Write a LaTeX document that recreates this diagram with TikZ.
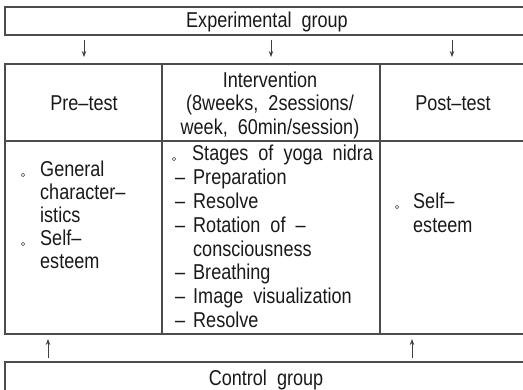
\documentclass[tikz,border=0pt]{standalone}
\usepackage{fontspec}
\setmainfont{Liberation Sans}[FakeStretch=0.84]
\usetikzlibrary{arrows.meta}
\tikzset{
  frame/.style={draw=black!70, line width=1.3pt},
  lbl/.style={inner sep=0pt, font=\fontsize{21.5}{24}\selectfont, text height=16pt, text depth=4pt, text=black!90},
  lw/.style={lbl, anchor=west},
  arr/.style={draw=black!75, line width=0.8pt, -{Stealth[length=6pt,width=4.5pt]}},
  bul/.style={circle, draw=black!70, line width=0.5pt, inner sep=0pt, minimum size=3.6pt},
}
\begin{document}
\begin{tikzpicture}[x=1pt,y=-1pt]
\useasboundingbox (0,0) rectangle (523,389);
\begin{scope}
\clip (0,0) rectangle (523,389);
\draw[frame] (5,7) rectangle (545,35);
\draw[frame] (5,64) rectangle (545,334);
\draw[frame] (5,141) -- (545,141);
\draw[frame] (162,64) -- (162,334);
\draw[frame] (380,64) -- (380,334);
\draw[frame] (5,400) -- (5,362) -- (545,362);
\end{scope}
% group labels
\node[lbl] (exp) at (267,21) {Experimental\ \ group};
\node[lbl] (ctrl) at (266,379) {Control\ \ group};
% headers
\node[lbl] (pre) at (84,104) {Pre–test};
\node[lbl] (int1) at (270,81) {Intervention};
\node[lbl] (int2) at (270,104) {(8weeks,\ \ 2sessions/};
\node[lbl] (int3) at (270,128) {week,\ \ 60min/session)};
\node[lbl] (post) at (453,104) {Post–test};
% arrows
\coordinate (d1s) at (84,40);  \coordinate (d1e) at (84,57);
\coordinate (d2s) at (271,40); \coordinate (d2e) at (271,57);
\coordinate (d3s) at (452,40); \coordinate (d3e) at (452,57);
\draw[arr] (d1s) -- (d1e);
\draw[arr] (d2s) -- (d2e);
\draw[arr] (d3s) -- (d3e);
\coordinate (u1s) at (48,358);  \coordinate (u1e) at (48,339);
\coordinate (u2s) at (412,358); \coordinate (u2e) at (412,339);
\draw[arr] (u1s) -- (u1e);
\draw[arr] (u2s) -- (u2e);
% left column
\node[bul] (lb1) at (23,175) {};
\node[lw] (l1) at (40,170) {General};
\node[lw] (l2) at (40,193) {character–};
\node[lw] (l3) at (40,216) {istics};
\node[bul] (lb2) at (23,244) {};
\node[lw] (l4) at (40,239) {Self–};
\node[lw] (l5) at (40,262) {esteem};
% middle column
\node[bul] (mb1) at (174,159) {};
\node[lw] (m1) at (192,154) {Stages\ \ of\ \ yoga\ \ nidra};
\node[lw] (md2) at (175,178) {–};
\node[lw] (m2) at (193,178) {Preparation};
\node[lw] (md3) at (175,202) {–};
\node[lw] (m3) at (193,202) {Resolve};
\node[lw] (md4) at (175,226) {–};
\node[lw] (m4) at (193,226) {Rotation\ \ of\ \ –};
\node[lw] (m5) at (193,250) {consciousness};
\node[lw] (md6) at (175,273) {–};
\node[lw] (m6) at (193,273) {Breathing};
\node[lw] (md7) at (175,297) {–};
\node[lw] (m7) at (193,297) {Image\ \ visualization};
\node[lw] (md8) at (175,321) {–};
\node[lw] (m8) at (193,321) {Resolve};
% right column
\node[bul] (rb1) at (397,207) {};
\node[lw] (r1) at (413,202) {Self–};
\node[lw] (r2) at (413,226) {esteem};
\end{tikzpicture}
\end{document}
